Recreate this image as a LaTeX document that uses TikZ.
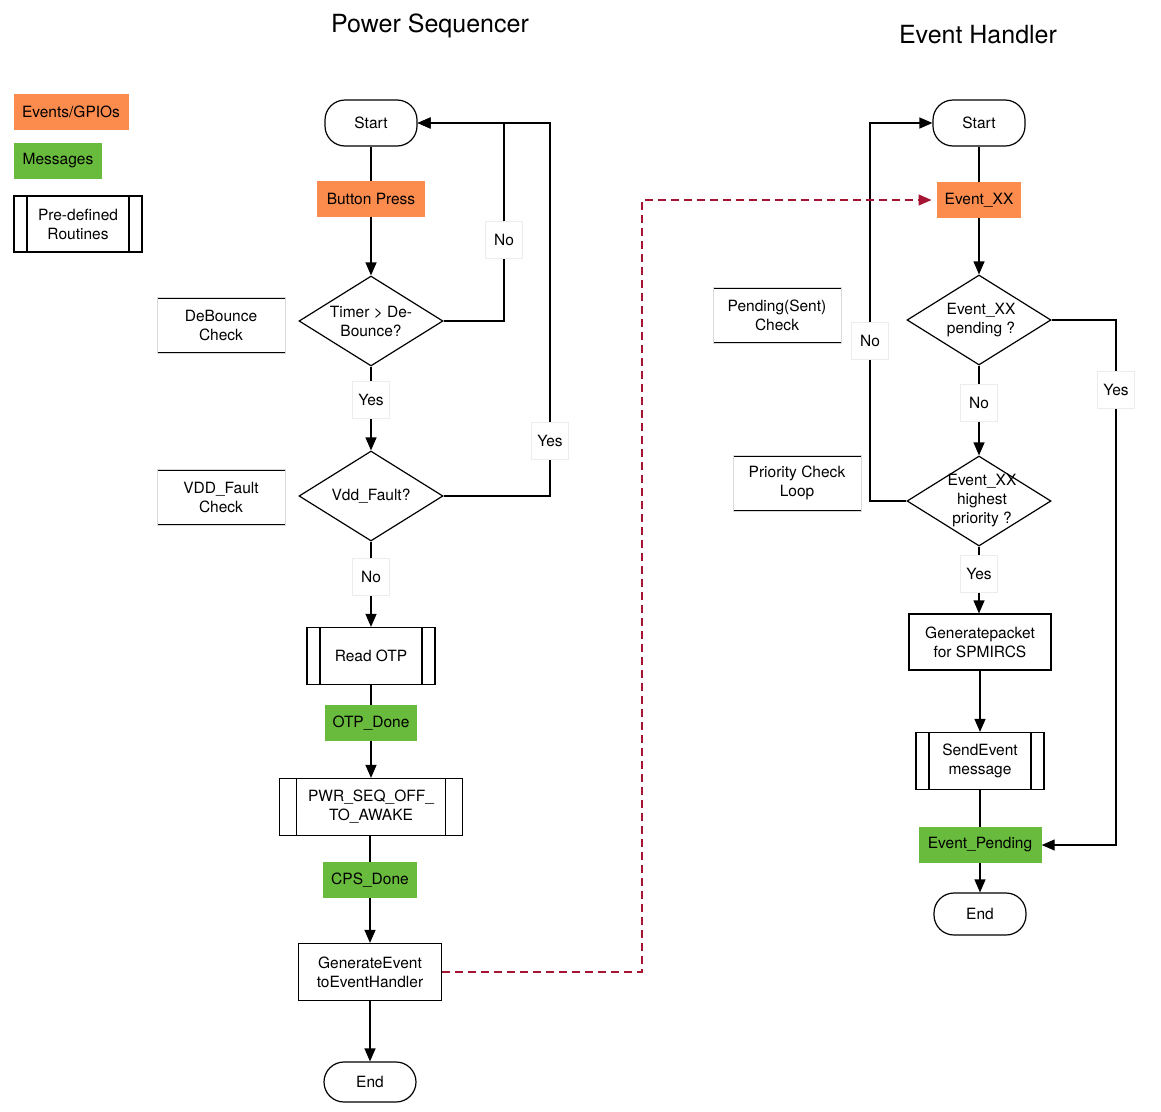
\documentclass[tikz,border=0pt]{standalone}
\usepackage{fontspec}
\setmainfont{TeX Gyre Heros}
\usetikzlibrary{shapes.geometric, arrows.meta}

\definecolor{gpioorange}{RGB}{252,140,78}
\definecolor{msggreen}{RGB}{104,187,60}
\definecolor{linkred}{RGB}{165,20,50}

\begin{document}
\begin{tikzpicture}[
    x=1pt, y=-1pt,
    font=\fontsize{15.5}{19}\selectfont,
    every node/.style={align=center},
    terminal/.style={rectangle, draw, line width=1.2pt, rounded corners=20pt, minimum width=92pt, minimum height=46pt},
    event/.style={rectangle, fill=gpioorange, minimum height=36pt, inner xsep=8pt},
    message/.style={rectangle, fill=msggreen, minimum height=36pt, inner xsep=8pt},
    process/.style={rectangle, draw, line width=1.2pt, minimum height=57pt},
    routine/.style={process, path picture={
        \draw[line width=1.2pt] ([xshift=#1]path picture bounding box.north west) -- ([xshift=#1]path picture bounding box.south west);
        \draw[line width=1.2pt] ([xshift=-#1]path picture bounding box.north east) -- ([xshift=-#1]path picture bounding box.south east);}},
    routine/.default=13pt,
    decision/.style={diamond, draw, line width=1.2pt, minimum width=144pt, minimum height=90pt, inner sep=0pt},
    note/.style={rectangle, draw=gray!30, line width=0.5pt, minimum width=128pt, minimum height=56pt, path picture={
        \draw[black, line width=3pt] (path picture bounding box.north west) -- (path picture bounding box.north east);
        \draw[black, line width=3pt] (path picture bounding box.south west) -- (path picture bounding box.south east);}},
    tag/.style={rectangle, fill=white, draw=gray!15, line width=0.5pt, minimum width=37pt, minimum height=37pt, inner sep=2pt},
    flow/.style={line width=1.2pt},
    arrow/.style={flow, -{Triangle[length=13pt, width=11pt]}},
    link/.style={line width=1.4pt, draw=linkred, dash pattern=on 8pt off 5pt, -{Triangle[length=13pt, width=11pt]}}
]
\useasboundingbox (0,0) rectangle (1161,1111);

% Titles
\node[font=\fontsize{25}{30}\selectfont] (seqtitle) at (430,26) {Power Sequencer};
\node[font=\fontsize{25}{30}\selectfont] (evtitle) at (978,35) {Event Handler};

% Legend
\node[event, minimum width=115pt] (lgevent) at (71,112) {Events/GPIOs};
\node[message, minimum width=88pt] (lgmsg) at (58,161) {Messages};
\node[routine, minimum width=128pt, minimum height=56pt] (lgroutine) at (78,224) {Pre-defined\\Routines};

%==============================================================================
% Power Sequencer
%==============================================================================
\node[terminal] (start1) at (371,123) {Start};
\node[event, minimum width=108pt] (button) at (371,199) {Button Press};
\node[decision, label={[align=center]center:Timer > De-\\Bounce?}] (timer) at (371,321) {};
\node[tag] (yes1) at (371,400) {Yes};
\node[decision, label={center:Vdd\_Fault?}] (vdd) at (371,496) {};
\node[tag] (no1) at (371,577) {No};
\node[routine, minimum width=128pt] (readotp) at (371,656) {Read OTP};
\node[message, minimum width=92pt] (otpdone) at (371,723) {OTP\_Done};
\node[routine=17pt, minimum width=183pt] (pwrseq) at (371,807) {PWR\_SEQ\_OFF\_\\TO\_AWAKE};
\node[message, minimum width=93pt] (cpsdone) at (370,880) {CPS\_Done};
\node[process, minimum width=143pt] (genevent) at (370,972) {GenerateEvent\\toEventHandler};
\node[terminal, minimum height=40pt] (end1) at (370,1082) {End};

% loop tags
\node[tag] (no2) at (504,240) {No};
\node[tag] (yes2) at (550,441) {Yes};

% side notes
\node[note] (debounce) at (221,325) {DeBounce\\Check};
\node[note] (vddnote) at (221,497) {VDD\_Fault\\Check};

\draw[flow] (start1) -- (button);
\draw[arrow] (button) -- (timer);
\draw[flow] (timer) -- (yes1);
\draw[arrow] (yes1) -- (vdd);
\draw[flow] (vdd) -- (no1);
\draw[arrow] (no1) -- (readotp);
\draw[flow] (readotp) -- (otpdone);
\draw[arrow] (otpdone) -- (pwrseq);
\draw[flow] (pwrseq.south -| cpsdone) -- (cpsdone);
\draw[arrow] (cpsdone) -- (genevent);
\draw[arrow] (genevent) -- (end1);

\draw[flow] (timer.east) -| (no2.south);
\draw[arrow] (no2.north) |- (start1.east);
\draw[flow] (vdd.east) -| (yes2.south);
\draw[arrow] (yes2.north) |- (start1.east);

%==============================================================================
% Event Handler
%==============================================================================
\node[terminal] (start2) at (979,123) {Start};
\node[event, minimum width=84pt] (eventxx) at (979,200) {Event\_XX};
\node[decision, label={[align=center, xshift=2pt]center:Event\_XX\\pending ?}] (pending) at (979,320) {};
\node[tag] (no3) at (979,403) {No};
\node[decision, label={[align=center, xshift=3pt]center:Event\_XX\\highest\\priority ?}] (highest) at (979,501) {};
\node[tag] (yes3) at (979,574) {Yes};
\node[process, minimum width=142pt, minimum height=56pt] (genpacket) at (980,642) {Generatepacket\\for SPMIRCS};
\node[routine, minimum width=128pt] (sendevent) at (980,761) {SendEvent\\message};
\node[message, minimum width=123pt] (evpending) at (980,845) {Event\_Pending};
\node[terminal, minimum height=42pt] (end2) at (980,914) {End};

% loop tags
\node[tag] (no4) at (870,341) {No};
\node[tag] (yes4) at (1116,390) {Yes};

% side notes
\node[note] (pendnote) at (777,315) {Pending(Sent)\\Check};
\node[note] (prionote) at (797,483) {Priority Check\\Loop};

\draw[flow] (start2) -- (eventxx);
\draw[arrow] (eventxx) -- (pending);
\draw[flow] (pending) -- (no3);
\draw[arrow] (no3) -- (highest);
\draw[flow] (highest) -- (yes3);
\draw[arrow] (yes3.south) -- (yes3.south |- genpacket.north);
\draw[arrow] (genpacket) -- (sendevent);
\draw[flow] (sendevent) -- (evpending);
\draw[arrow] (evpending) -- (end2);

\draw[flow] (highest.west) -| (no4.south);
\draw[arrow] (no4.north) |- (start2.west);
\draw[flow] (pending.east) -| (yes4.north);
\draw[arrow] (yes4.south) |- (evpending.east);

% link between the two flows
\coordinate (linkbend) at (642,972);
\draw[link, shorten >=5pt] (genevent.east) -- (linkbend) |- (eventxx.west);

\end{tikzpicture}
\end{document}
